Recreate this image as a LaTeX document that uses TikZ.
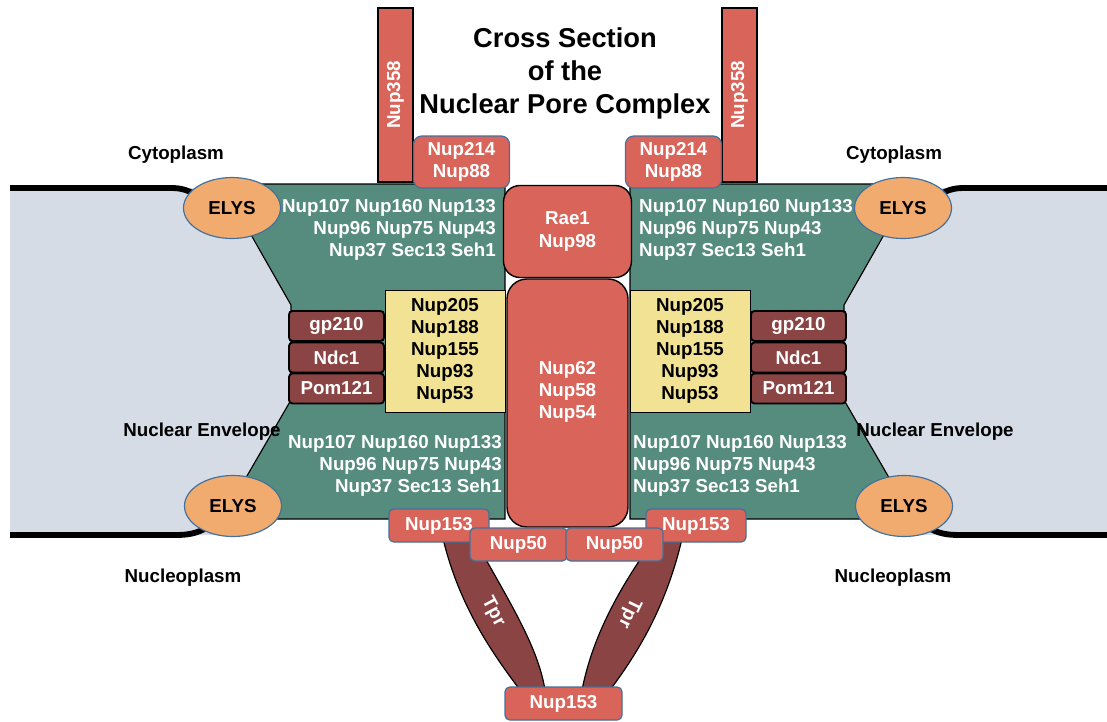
\documentclass[tikz,border=0pt]{standalone}
\usepackage{fontspec}
\setmainfont{Liberation Sans}
\usepackage{tikz}
\usetikzlibrary{shapes.geometric}
\definecolor{envgrey}{RGB}{214,220,229}
\definecolor{scaffold}{RGB}{86,140,125}
\definecolor{nupred}{RGB}{217,100,89}
\definecolor{nupdark}{RGB}{139,68,68}
\definecolor{ringyellow}{RGB}{242,227,148}
\definecolor{elysorange}{RGB}{241,171,111}
\definecolor{rimblue}{RGB}{65,113,156}
\tikzset{
  every node/.style={font=\fontsize{16}{18.8}\selectfont\bfseries},
  envelope/.style={fill=envgrey},
  membrane/.style={line width=5pt},
  ysubunit/.style={fill=scaffold, draw=black, line width=1pt},% outer/inner Y-complex
  filament/.style={rectangle, draw=black, line width=1pt, fill=nupred,
    text=white, inner sep=0pt},
  nupbox/.style={rectangle, rounded corners=4pt, draw=rimblue, line width=1pt,
    fill=nupred, text=white, inner sep=0pt, align=center},
  channel/.style={rectangle, draw=black, line width=1.2pt, fill=nupred,
    text=white, inner sep=0pt, align=center},
  ring/.style={rectangle, draw=black, line width=0.8pt, fill=ringyellow,
    inner sep=0pt, align=center, minimum width=3.6cm, minimum height=3.66cm},
  transmem/.style={rectangle, rounded corners=3pt, draw=black, line width=1.6pt,
    fill=nupdark, text=white, inner sep=0pt,
    minimum width=2.85cm, minimum height=0.9cm},
  elys/.style={ellipse, draw=rimblue, line width=1pt, fill=elysorange,
    minimum width=2.91cm, minimum height=1.83cm, inner sep=0pt},
  basket/.style={fill=nupdark, draw=black, line width=1pt},
  nuptext/.style={text=white, inner sep=0pt, align=center},
  compartment/.style={inner sep=0pt},
  headline/.style={font=\fontsize{23.3}{28.2}\selectfont\bfseries, align=center},
}

\begin{document}
\begin{tikzpicture}[x=0.03cm, y=-0.03cm]
  \useasboundingbox (0,0) rectangle (1107,722);

  % ----- nuclear envelope ---------------------------------------------------
  \fill[envelope] (10,188) -- (222,188) -- (291,305) -- (291,400) -- (222,520)
    -- (222,535) -- (10,535) -- cycle;
  \fill[envelope] (1107,188) -- (913,188) -- (844,305) -- (844,400) -- (913,520)
    -- (913,535) -- (1107,535) -- cycle;
  \draw[membrane] (10,188) -- (172,188) to[out=0,in=150] (205,200);
  \draw[membrane] (10,535) -- (175,535) to[out=0,in=-150] (208,527);
  \draw[membrane] (1107,188) -- (963,188) to[out=180,in=30] (930,200);
  \draw[membrane] (1107,535) -- (960,535) to[out=180,in=-30] (927,527);

  % ----- scaffold (Y-complex) -----------------------------------------------
  \draw[ysubunit] (222,184) -- (505,184) -- (505,519) -- (222,519) -- (291,400)
    -- (291,305) -- cycle;
  \draw[ysubunit] (913,184) -- (630,184) -- (630,519) -- (913,519) -- (844,400)
    -- (844,305) -- cycle;

  % ----- cytoplasmic filaments ----------------------------------------------
  \node[filament, rotate=90, minimum width=5.22cm, minimum height=1.05cm]
    (nup358l) at (395.5,95) {Nup358};
  \node[filament, rotate=90, minimum width=5.22cm, minimum height=1.05cm]
    (nup358r) at (739.5,95) {Nup358};
  \node[nupbox, rounded corners=7pt, minimum width=2.88cm, minimum height=1.56cm]
    (nup214l) at (461.5,162) {Nup214\\Nup88};
  \node[nupbox, rounded corners=7pt, minimum width=2.88cm, minimum height=1.56cm]
    (nup214r) at (673.5,162) {Nup214\\Nup88};

  % ----- central channel ----------------------------------------------------
  \node[channel, rounded corners=14pt, minimum width=3.84cm, minimum height=2.76cm]
    (rae1) at (567.5,231.5) {Rae1\\Nup98};
  \node[channel, rounded corners=17pt, minimum width=3.63cm, minimum height=7.44cm]
    (nup62) at (567.5,403) {};
  \node[nuptext] (nup62t) at (567.5,392) {Nup62\\Nup58\\Nup54};

  % ----- inner ring and transmembrane nups ----------------------------------
  \node[ring] (ringl) at (445,351) {Nup205\\Nup188\\Nup155\\Nup93\\Nup53};
  \node[ring] (ringr) at (690,351) {Nup205\\Nup188\\Nup155\\Nup93\\Nup53};
  \node[transmem] (gp210l)  at (336.5,326)   {gp210};
  \node[transmem] (ndc1l)   at (336.5,357.5) {Ndc1};
  \node[transmem] (pom121l) at (336.5,388.5) {Pom121};
  \node[transmem] (gp210r)  at (798.5,326)   {gp210};
  \node[transmem] (ndc1r)   at (798.5,357.5) {Ndc1};
  \node[transmem] (pom121r) at (798.5,388.5) {Pom121};

  % ----- Y-complex members --------------------------------------------------
  \node[nuptext, align=right, anchor=east] (ycomptl) at (496,230)
    {Nup107 Nup160 Nup133\\Nup96 Nup75 Nup43\\Nup37 Sec13 Seh1};
  \node[nuptext, align=left, anchor=west] (ycomptr) at (639,230)
    {Nup107 Nup160 Nup133\\Nup96 Nup75 Nup43\\Nup37 Sec13 Seh1};
  \node[nuptext, align=right, anchor=east] (ycompbl) at (502,466)
    {Nup107 Nup160 Nup133\\Nup96 Nup75 Nup43\\Nup37 Sec13 Seh1};
  \node[nuptext, align=left, anchor=west] (ycompbr) at (633,466)
    {Nup107 Nup160 Nup133\\Nup96 Nup75 Nup43\\Nup37 Sec13 Seh1};

  % ----- ELYS ---------------------------------------------------------------
  \node[elys] (elystl) at (232,208) {ELYS};
  \node[elys] (elystr) at (903,208) {ELYS};
  \node[elys] (elysbl) at (233,506) {ELYS};
  \node[elys] (elysbr) at (904,506) {ELYS};

  % ----- nuclear basket -----------------------------------------------------
  \draw[basket] (440,525) .. controls (455,600) and (490,650) .. (520,690)
    -- (545,690) .. controls (538,645) and (505,595) .. (478,545) -- cycle;
  \draw[basket] (685,525) .. controls (670,600) and (640,650) .. (610,690)
    -- (582,690) .. controls (592,640) and (615,595) .. (650,545) -- cycle;
  \node[nuptext, rotate=-62]  (tprl) at (493,612) {Tpr};
  \node[nuptext, rotate=-116] (tprr) at (629,613) {Tpr};

  \node[nupbox, minimum width=3.0cm, minimum height=0.99cm] (nup153l) at (439,525.5) {Nup153};
  \node[nupbox, minimum width=3.0cm, minimum height=0.99cm] (nup153r) at (696,525.5) {Nup153};
  \node[nupbox, minimum width=2.91cm, minimum height=0.99cm] (nup50l) at (518.5,544.5) {Nup50};
  \node[nupbox, minimum width=2.91cm, minimum height=0.99cm] (nup50r) at (614.5,544.5) {Nup50};
  \node[nupbox, minimum width=3.51cm, minimum height=0.99cm] (nup153b) at (563.5,703.5) {Nup153};

  % ----- compartments and title ---------------------------------------------
  \node[compartment] (cytol) at (176,155) {Cytoplasm};
  \node[compartment] (cytor) at (894,155) {Cytoplasm};
  \node[compartment] (envl)  at (202,432) {Nuclear Envelope};
  \node[compartment] (envr)  at (935,432) {Nuclear Envelope};
  \node[compartment] (nucl)  at (183,578) {Nucleoplasm};
  \node[compartment] (nucr)  at (893,578) {Nucleoplasm};
  \node[headline] (title) at (565,73) {Cross Section\\of the\\Nuclear Pore Complex};

\end{tikzpicture}
\end{document}
